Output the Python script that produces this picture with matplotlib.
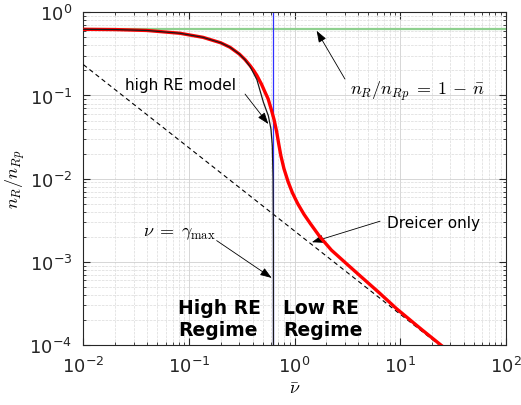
import numpy as np
import matplotlib
matplotlib.use('Agg')
import matplotlib.pyplot as plt

# values
nu_red = [0.01, 0.02, 0.04, 0.082, 0.136, 0.2, 0.245, 0.3, 0.34, 0.38, 0.41,
          0.44, 0.489, 0.52, 0.562, 0.603, 0.640, 0.676, 0.708, 0.741, 0.794,
          0.871, 0.955, 1.072, 1.230, 1.413, 1.738, 2.239, 3.162, 4.17, 6.31,
          9.29, 15.85, 24.8]
nR_red = [0.625, 0.62, 0.605, 0.56, 0.50, 0.43, 0.38, 0.315, 0.27, 0.228,
          0.2, 0.174, 0.135, 0.113, 0.0912, 0.0676, 0.0513, 0.0372, 0.0263,
          0.0191, 0.0132, 0.00912, 0.00676, 0.00501, 0.00372, 0.00288,
          0.00200, 0.00138, 9.3e-4, 6.8e-4, 4.27e-4, 2.72e-4, 1.55e-4, 9.8e-5]

nu_high = [0.01, 0.02, 0.04, 0.082, 0.136, 0.2, 0.245, 0.3, 0.34, 0.38, 0.44,
           0.507, 0.565, 0.598, 0.616, 0.626, 0.631, 0.632]
nR_high = [0.625, 0.62, 0.605, 0.56, 0.50, 0.43, 0.38, 0.315, 0.268, 0.222,
           0.155, 0.083, 0.057, 0.0396, 0.025, 0.01, 0.002, 1e-5]

nu_dreicer = [0.01, 100]
nR_dreicer = [0.235, 2.35e-5]

gamma_max = 0.632
one_minus_nbar = 0.632

fig = plt.figure(figsize=(5.21, 4.06), dpi=100)
ax = fig.add_axes([0.16, 0.1478, 0.8106, 0.8194])
ax.set_xscale('log')
ax.set_yscale('log')
ax.set_xlim(1e-2, 1e2)
ax.set_ylim(1e-4, 1e0)

ax.grid(True, which='major', color='#d0d0d0', linestyle='-', linewidth=0.6)
ax.grid(True, which='minor', color='#dadada', linestyle='--', linewidth=0.5)
ax.set_axisbelow(True)

ax.axhline(one_minus_nbar, color='#8fd08f', lw=1.6, zorder=2)
ax.axvline(gamma_max, color='#3030ff', lw=0.9, zorder=2)
ax.plot(nu_dreicer, nR_dreicer, color='black', ls=(0, (4, 3)), lw=0.8, zorder=3)
ax.plot(nu_red, nR_red, color='#ff0000', lw=2.4, zorder=4)
ax.plot(nu_high, nR_high, color='#1a1a1a', lw=0.9, zorder=5)

ax.tick_params(which='both', direction='in', top=True, right=True,
               colors='#262626', labelsize=13)
ax.tick_params(which='major', length=5, pad=8)
ax.tick_params(which='minor', length=2.5)
for s in ax.spines.values():
    s.set_color('#262626')
    s.set_linewidth(0.8)

ax.set_xlabel(r'$\bar{\nu}$', fontsize=13, math_fontfamily='cm', labelpad=2)
ax.set_ylabel(r'$n_R/n_{Rp}$', fontsize=13, math_fontfamily='cm', labelpad=2)

arrow = dict(arrowstyle='-|>,head_length=0.7,head_width=0.25', color='black',
             lw=0.6, shrinkA=0, shrinkB=0)

ax.annotate('', xy=(0.565, 0.0454), xytext=(0.34, 0.104), arrowprops=arrow)
ax.text(0.0248, 0.137, 'high RE model', fontsize=11, ha='left', va='center')

ax.annotate('', xy=(1.62, 0.60), xytext=(3.0, 0.158), arrowprops=arrow)
ax.text(3.36, 0.114, r'$n_R/n_{Rp}\;=\;1\,-\,\bar{n}$', fontsize=13,
        math_fontfamily='cm', ha='left', va='center')

ax.annotate('', xy=(0.608, 6.4e-4), xytext=(0.183, 1.8e-3), arrowprops=arrow)
ax.text(0.037, 2.29e-3, r'$\nu\;=\;\gamma_{\max}$', fontsize=13,
        math_fontfamily='cm', ha='left', va='center')

ax.annotate('', xy=(1.46, 1.72e-3), xytext=(6.46, 3.08e-3), arrowprops=arrow)
ax.text(7.47, 3.0e-3, 'Dreicer only', fontsize=11, ha='left', va='center')

ax.text(0.079, 2.06e-4, 'High RE\nRegime', fontsize=13.5, fontweight='bold',
        ha='left', va='center', linespacing=1.2)
ax.text(0.783, 2.06e-4, 'Low RE\nRegime', fontsize=13.5, fontweight='bold',
        ha='left', va='center', linespacing=1.2)

fig.savefig('out.png', dpi=100)
